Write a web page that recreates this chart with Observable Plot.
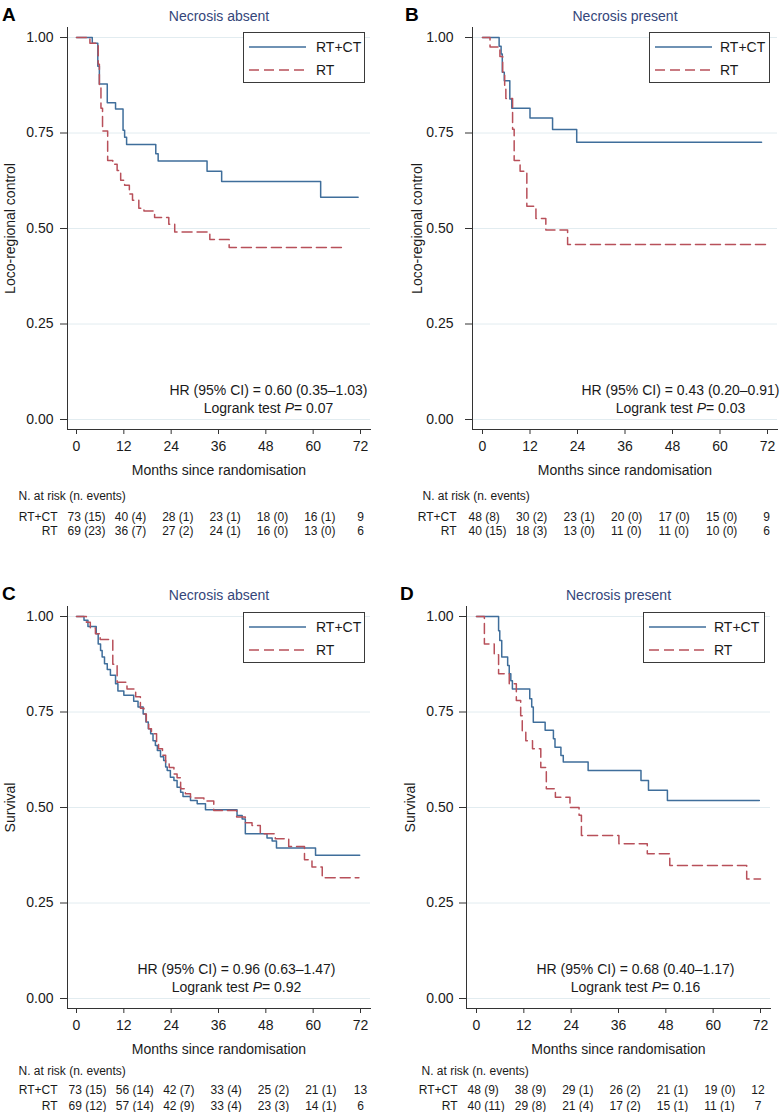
<!DOCTYPE html>
<html><head><meta charset="utf-8">
<script src="https://cdn.jsdelivr.net/npm/d3@7"></script>
<script src="https://cdn.jsdelivr.net/npm/@observablehq/plot@0.6"></script>
<style>
body{margin:0;background:#fff;font-family:"Liberation Sans",Arial,Helvetica,sans-serif;}
#root{position:relative;width:784px;height:1112px;overflow:hidden;background:#fff;}
.panel{position:absolute;width:392px;height:540px;}
.panel svg{position:absolute;left:0;overflow:visible;}
.letter{position:absolute;font-weight:bold;font-size:19px;color:#000;line-height:1;}
.legend{position:absolute;border:1px solid #3a3a3a;background:#fff;box-sizing:border-box;}
</style></head><body><div id="root"></div>
<script>
// ---------- shared ----------
const groups = ["RT+CT", "RT"];
const colors = ["#3f6e9b", "#b8505a"];
const monthTicks = [0, 12, 24, 36, 48, 60, 72];
const yTicks = [0, 0.25, 0.5, 0.75, 1];
const xLabel = "Months since randomisation";
const riskHeader = "N. at risk (n. events)";

// ---------- Panel A ----------
const titleA = "Necrosis absent";
const yLabelA = "Loco-regional control";
const tA_rtct = [0, 4.0, 5.4, 5.8, 7.8, 9.9, 11.8, 12.2, 12.7, 20.1, 20.7, 33.1, 36.8, 61.9, 71.4];
const sA_rtct = [1, 0.985, 0.925, 0.878, 0.829, 0.813, 0.757, 0.739, 0.72, 0.696, 0.677, 0.65, 0.623, 0.582, 0.582];
const tA_rt = [0, 3.4, 5.5, 5.8, 6.2, 6.6, 7.9, 9.2, 10.3, 11.2, 12.2, 13.4, 14.2, 15.8, 17.1, 19.8, 23.4, 24.9, 33.8, 38.7, 68.2];
const sA_rt = [1, 0.985, 0.93, 0.875, 0.815, 0.755, 0.678, 0.668, 0.652, 0.626, 0.613, 0.59, 0.574, 0.553, 0.546, 0.529, 0.511, 0.491, 0.471, 0.45, 0.45];
const riskA_rtct = [73, 40, 28, 23, 18, 16, 9];
const evA_rtct = [15, 4, 1, 1, 0, 1];
const riskA_rt = [69, 36, 27, 24, 16, 13, 6];
const evA_rt = [23, 7, 2, 1, 0, 0];
const hrA = "HR (95% CI) = 0.60 (0.35–1.03)";
const pA = "Logrank test P= 0.07";

// ---------- Panel B ----------
const titleB = "Necrosis present";
const yLabelB = "Loco-regional control";
const tB_rtct = [0, 4.2, 4.7, 5.0, 5.5, 6.9, 7.4, 12.0, 17.7, 23.8, 70.5];
const sB_rtct = [1, 0.977, 0.957, 0.909, 0.887, 0.839, 0.815, 0.789, 0.759, 0.726, 0.726];
const tB_rt = [0, 1.9, 4.4, 5.1, 5.6, 5.9, 7.6, 8.0, 9.5, 11.2, 13.5, 16.0, 21.5, 72];
const sB_rt = [1, 0.975, 0.95, 0.91, 0.875, 0.84, 0.76, 0.678, 0.65, 0.558, 0.526, 0.496, 0.458, 0.458];
const riskB_rtct = [48, 30, 23, 20, 17, 15, 9];
const evB_rtct = [8, 2, 1, 0, 0, 0];
const riskB_rt = [40, 18, 13, 11, 11, 10, 6];
const evB_rt = [15, 3, 0, 0, 0, 0];
const hrB = "HR (95% CI) = 0.43 (0.20–0.91)";
const pB = "Logrank test P= 0.03";

// ---------- Panel C ----------
const titleC = "Necrosis absent";
const yLabelC = "Survival";
const tC_rtct = [0, 1.9, 2.9, 5.0, 5.5, 6.1, 6.5, 7.1, 7.8, 8.6, 9.9, 10.5, 12.0, 14.5, 15.6, 16.9, 17.6, 18.2, 18.8, 19.4, 20.0, 20.5, 21.3, 22.1, 22.6, 23.0, 23.8, 24.7, 25.5, 26.4, 27.0, 28.9, 30.6, 32.7, 40.7, 42.0, 42.8, 48.3, 49.6, 50.7, 60.6, 71.8];
const sC_rtct = [1, 0.99, 0.974, 0.955, 0.928, 0.911, 0.894, 0.876, 0.861, 0.846, 0.824, 0.805, 0.794, 0.778, 0.763, 0.745, 0.724, 0.706, 0.693, 0.675, 0.662, 0.649, 0.633, 0.623, 0.606, 0.597, 0.579, 0.571, 0.553, 0.54, 0.529, 0.518, 0.51, 0.494, 0.479, 0.47, 0.431, 0.42, 0.412, 0.394, 0.375, 0.375];
const tC_rt = [0, 2.5, 3.5, 4.8, 6.0, 9.2, 10.3, 12.8, 15.0, 16.2, 17.1, 17.7, 18.3, 19.0, 20.3, 20.8, 21.8, 22.6, 23.5, 24.7, 25.5, 26.4, 27.6, 28.9, 32.3, 34.8, 40.6, 42.8, 44.5, 46.6, 50.4, 53.8, 57.8, 59.7, 62.3, 71.6];
const sC_rt = [1, 0.985, 0.97, 0.955, 0.94, 0.875, 0.828, 0.81, 0.79, 0.76, 0.745, 0.724, 0.706, 0.693, 0.672, 0.654, 0.637, 0.614, 0.605, 0.588, 0.578, 0.549, 0.536, 0.525, 0.517, 0.492, 0.475, 0.46, 0.453, 0.431, 0.418, 0.398, 0.363, 0.344, 0.316, 0.316];
const riskC_rtct = [73, 56, 42, 33, 25, 21, 13];
const evC_rtct = [15, 14, 7, 4, 2, 1];
const riskC_rt = [69, 57, 42, 33, 23, 14, 6];
const evC_rt = [12, 14, 9, 4, 3, 1];
const hrC = "HR (95% CI) = 0.96 (0.63–1.47)";
const pC = "Logrank test P= 0.92";

// ---------- Panel D ----------
const titleD = "Necrosis present";
const yLabelD = "Survival";
const tD_rtct = [0, 5.6, 5.9, 6.4, 7.9, 8.3, 8.7, 9.1, 13.5, 14.0, 14.4, 17.4, 19.5, 19.9, 21.4, 22.0, 28.3, 41.7, 43.6, 48.4, 71.7];
const sD_rtct = [1, 0.963, 0.937, 0.894, 0.872, 0.85, 0.832, 0.81, 0.785, 0.763, 0.723, 0.702, 0.68, 0.658, 0.636, 0.619, 0.597, 0.571, 0.545, 0.518, 0.518];
const tD_rt = [0, 2.0, 4.5, 5.6, 8.3, 10.1, 11.2, 11.6, 12.5, 14.2, 16.3, 17.7, 20.0, 23.7, 26.0, 26.6, 36.1, 43.3, 49.0, 68.5, 72];
const sD_rt = [1, 0.928, 0.9, 0.85, 0.824, 0.78, 0.74, 0.7, 0.675, 0.654, 0.605, 0.549, 0.527, 0.5, 0.48, 0.427, 0.405, 0.379, 0.348, 0.313, 0.313];
const riskD_rtct = [48, 38, 29, 26, 21, 19, 12];
const evD_rtct = [9, 9, 1, 2, 1, 0];
const riskD_rt = [40, 29, 21, 17, 15, 11, 7];
const evD_rt = [11, 8, 4, 2, 1, 1];
const hrD = "HR (95% CI) = 0.68 (0.40–1.17)";
const pD = "Logrank test P= 0.16";

// ---------- layout (positions only) ----------
const panels = [
  {letter: "A", left: 0, top: 0, title: titleA, yLabel: yLabelA,
   curves: [[tA_rtct, sA_rtct], [tA_rt, sA_rt]], risk: [[riskA_rtct, evA_rtct], [riskA_rt, evA_rt]], hr: hrA, p: pA,
   mL: 67, mR: 22, iL: 9, iR: 10, yPad: 7, yLabDx: -57, annDx: 49.5,
   letterPos: [2, 5], legend: {left: 243, top: 32, w: 122, text: 73},
   tab: {headDx: -49, headY: 16, rows: [37, 51], labDx: -10, cellDx: -9, lastDx: 0, h: 60}},
  {letter: "B", left: 392, top: 0, title: titleB, yLabel: yLabelB,
   curves: [[tB_rtct, sB_rtct], [tB_rt, sB_rt]], risk: [[riskB_rtct, evB_rtct], [riskB_rt, evB_rt]], hr: hrB, p: pB,
   mL: 80, mR: 7, iL: 10, iR: 10, yPad: 12, yLabDx: -55, annDx: 55.5,
   letterPos: [13, 5], legend: {left: 257, top: 32, w: 121, text: 71},
   tab: {headDx: -50, headY: 16, rows: [37, 51], labDx: -16, cellDx: -14, lastDx: -1, h: 60}},
  {letter: "C", left: 0, top: 579, title: titleC, yLabel: yLabelC,
   curves: [[tC_rtct, sC_rtct], [tC_rt, sC_rt]], risk: [[riskC_rtct, evC_rtct], [riskC_rt, evC_rt]], hr: hrC, p: pC,
   mL: 67, mR: 22, iL: 9, iR: 10, yPad: 7, yLabDx: -57, annDx: 17.5,
   letterPos: [2, 5], legend: {left: 243, top: 33, w: 122, text: 73},
   tab: {headDx: -49, headY: 12, rows: [31, 47], labDx: -10, cellDx: -8, lastDx: 0, h: 53}},
  {letter: "D", left: 392, top: 579, title: titleD, yLabel: yLabelD,
   curves: [[tD_rtct, sD_rtct], [tD_rt, sD_rt]], risk: [[riskD_rtct, evD_rtct], [riskD_rt, evD_rt]], hr: hrD, p: pD,
   mL: 74, mR: 14, iL: 10, iR: 10, yPad: 6, yLabDx: -56, annDx: 17,
   letterPos: [8, 5], legend: {left: 251, top: 33, w: 122, text: 71},
   tab: {headDx: -45, headY: 12, rows: [31, 47], labDx: -9, cellDx: -9, lastDx: -2.5, h: 53}}
];

const font = '"Liberation Sans", Arial, Helvetica, sans-serif';
const gridColor = "#e2ecf0";
const axisColor = "#333";
const titleColor = "#34467a";
const NS = "http://www.w3.org/2000/svg";

function italicP(svg) {
  svg.querySelectorAll("text").forEach(t => {
    const m = t.textContent.match(/^(.*test )P(=.*)$/);
    if (m && t.children.length === 0) {
      t.textContent = "";
      const ts = document.createElementNS(NS, "tspan");
      ts.setAttribute("font-style", "italic");
      ts.textContent = "P";
      t.append(m[1], ts, m[2]);
    }
  });
}

const root = document.getElementById("root");

for (const cfg of panels) {
  const div = document.createElement("div");
  div.className = "panel";
  div.style.left = cfg.left + "px";
  div.style.top = cfg.top + "px";
  root.appendChild(div);

  const rows = [];
  cfg.curves.forEach(([ts, ss], gi) => ts.forEach((t, i) => rows.push({g: groups[gi], t, s: ss[i]})));

  const main = Plot.plot({
    width: 392, height: 480,
    marginLeft: cfg.mL, marginRight: cfg.mR, marginTop: 27, marginBottom: 51,
    insetLeft: cfg.iL, insetRight: cfg.iR, insetTop: 10, insetBottom: 10,
    x: {domain: [0, 72]},
    y: {domain: [0, 1]},
    style: {fontFamily: font, fontSize: "14px", color: "#1a1a1a", background: "transparent", overflow: "visible"},
    marks: [
      Plot.gridY({ticks: yTicks, stroke: gridColor, strokeOpacity: 1}),
      Plot.frame({anchor: "left", stroke: axisColor}),
      Plot.frame({anchor: "bottom", stroke: axisColor}),
      Plot.axisY({ticks: yTicks, tickFormat: d3.format(".2f"), tickSize: 7, tickPadding: cfg.yPad, label: null, stroke: axisColor}),
      Plot.axisX({ticks: monthTicks, tickFormat: d => String(d), tickSize: 5, tickPadding: 7, label: null, stroke: axisColor}),
      Plot.line(rows.filter(d => d.g === groups[0]), {x: "t", y: "s", curve: "step-after", stroke: colors[0], strokeWidth: 1.5}),
      Plot.line(rows.filter(d => d.g === groups[1]), {x: "t", y: "s", curve: "step-after", stroke: colors[1], strokeWidth: 1.5, strokeDasharray: "10,5"}),
      Plot.text([cfg.title], {text: d => d, frameAnchor: "top", lineAnchor: "middle", dy: -11, fill: titleColor, fontSize: 14}),
      Plot.text([cfg.yLabel], {text: d => d, frameAnchor: "left", textAnchor: "middle", lineAnchor: "middle", rotate: -90, dx: cfg.yLabDx, fontSize: 14}),
      Plot.text([xLabel], {text: d => d, frameAnchor: "bottom", lineAnchor: "middle", dy: 41, fontSize: 14}),
      Plot.text([cfg.hr], {text: d => d, frameAnchor: "bottom", lineAnchor: "middle", dx: cfg.annDx, dy: -39, fontSize: 14}),
      Plot.text([cfg.p], {text: d => d, frameAnchor: "bottom", lineAnchor: "middle", dx: cfg.annDx, dy: -21, fontSize: 14})
    ]
  });
  main.style.top = "0px";
  italicP(main);
  div.appendChild(main);

  // at-risk table
  const cells = [];
  cfg.risk.forEach(([n, ev], gi) => n.forEach((v, i) => cells.push({
    g: groups[gi], t: monthTicks[i], last: i === n.length - 1,
    label: i < ev.length ? `${v} (${ev[i]})` : String(v)
  })));
  const tab = Plot.plot({
    width: 392, height: cfg.tab.h,
    marginLeft: cfg.mL, marginRight: cfg.mR, marginTop: 0, marginBottom: 0,
    insetLeft: cfg.iL, insetRight: cfg.iR,
    x: {domain: [0, 72], axis: null},
    y: {type: "point", domain: groups, range: cfg.tab.rows, padding: 0, axis: null},
    style: {fontFamily: font, fontSize: "12px", color: "#1a1a1a", background: "transparent", overflow: "visible"},
    marks: [
      Plot.text([riskHeader], {text: d => d, frameAnchor: "top-left", textAnchor: "start", lineAnchor: "middle", dx: cfg.tab.headDx, dy: cfg.tab.headY, fontSize: 12}),
      Plot.text(groups, {y: d => d, text: d => d, frameAnchor: "left", textAnchor: "end", lineAnchor: "middle", dx: cfg.tab.labDx, fontSize: 12}),
      Plot.text(cells.filter(d => !d.last), {x: "t", y: "g", text: "label", textAnchor: "start", dx: cfg.tab.cellDx, fontSize: 12}),
      Plot.text(cells.filter(d => d.last), {x: "t", y: "g", text: "label", textAnchor: "middle", dx: cfg.tab.lastDx, fontSize: 12})
    ]
  });
  tab.style.top = "480px";
  div.appendChild(tab);

  // panel letter
  const L = document.createElement("div");
  L.className = "letter";
  L.textContent = cfg.letter;
  L.style.left = cfg.letterPos[0] + "px";
  L.style.top = cfg.letterPos[1] + "px";
  div.appendChild(L);

  // legend
  const lg = document.createElement("div");
  lg.className = "legend";
  lg.style.left = cfg.legend.left + "px";
  lg.style.top = cfg.legend.top + "px";
  lg.style.width = cfg.legend.w + "px";
  lg.style.height = "51px";
  const ls = document.createElementNS(NS, "svg");
  ls.setAttribute("width", cfg.legend.w - 2);
  ls.setAttribute("height", 49);
  ls.style.position = "absolute"; ls.style.left = "0"; ls.style.top = "0";
  groups.forEach((g, i) => {
    const y = 14 + 23 * i;
    const ln = document.createElementNS(NS, "line");
    ln.setAttribute("x1", 5); ln.setAttribute("x2", 62);
    ln.setAttribute("y1", y); ln.setAttribute("y2", y);
    ln.setAttribute("stroke", colors[i]); ln.setAttribute("stroke-width", 1.5);
    if (i === 1) ln.setAttribute("stroke-dasharray", "10,5");
    ls.appendChild(ln);
    const tx = document.createElementNS(NS, "text");
    tx.setAttribute("x", cfg.legend.text - 1); tx.setAttribute("y", y);
    tx.setAttribute("dy", "0.35em");
    tx.setAttribute("font-family", font); tx.setAttribute("font-size", 14);
    tx.setAttribute("fill", "#1a1a1a");
    tx.textContent = g;
    ls.appendChild(tx);
  });
  lg.appendChild(ls);
  div.appendChild(lg);
}
</script></body></html>
